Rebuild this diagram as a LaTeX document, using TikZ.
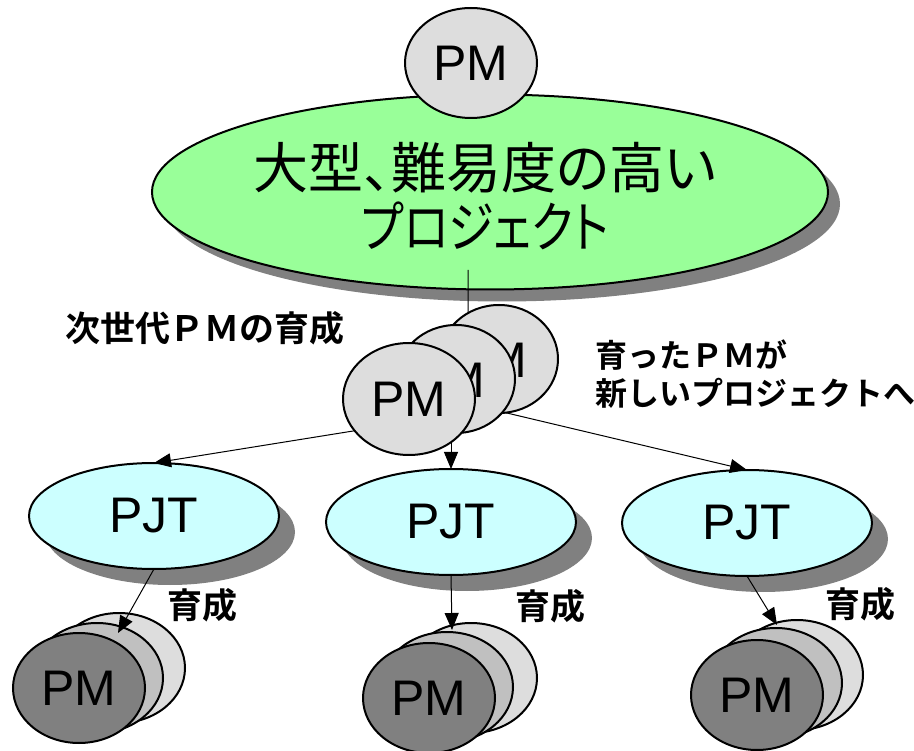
\documentclass[tikz,border=0pt]{standalone}
\usepackage{fontspec}
\setmainfont{Liberation Sans}
\newfontfamily\jp{Noto Sans CJK JP}[RawFeature=+palt]
\newfontfamily\jpn{Noto Sans CJK JP}[RawFeature=+palt, FakeStretch=0.84]
\newfontfamily\jpb{Noto Sans CJK JP Bold}
\usetikzlibrary{shapes.geometric,shadows,arrows.meta}
\definecolor{greenfill}{HTML}{99FF99}
\definecolor{pjtcol}{HTML}{CCFFFF}
\definecolor{pmlight}{HTML}{DDDDDD}
\definecolor{pmmid}{HTML}{C0C0C0}
\definecolor{pmdark}{HTML}{808080}
\definecolor{shadowgray}{HTML}{808080}
\begin{document}
\begin{tikzpicture}[x=1pt,y=-1pt,
 ell/.style={ellipse, draw, line width=2pt, inner sep=0pt, outer sep=0pt},
 pm/.style={ell, minimum width=132pt, minimum height=110pt, font=\fontsize{50}{50}\selectfont},
 pmb/.style={ell, minimum width=118pt, minimum height=108pt, fill=pmlight, font=\fontsize{50}{50}\selectfont},
 pjt/.style={ell, fill=pjtcol, minimum width=250pt, minimum height=106pt,
   font=\fontsize{50}{50}\selectfont,
   drop shadow={shadow xshift=16pt, shadow yshift=-16pt, fill=shadowgray, opacity=1}},
 lbl/.style={inner sep=0pt, font=\jpb\fontsize{35}{40}\selectfont},
 arr/.style={line width=1pt, -{Triangle[length=17pt,width=14pt]}},
]
\useasboundingbox (0,0) rectangle (914,751);

% big green project
\node[ell, fill=greenfill, minimum width=676pt, minimum height=195pt,
  drop shadow={shadow xshift=12pt, shadow yshift=-12pt, fill=shadowgray, opacity=1}]
  (big) at (490,192) {};
\node[font=\jp\fontsize{55}{55}\selectfont] (bigtext1) at (485,168) {大型、難易度の高い};
\node[font=\jpn\fontsize{55}{55}\selectfont] (bigtext2) at (485,226) {プロジェクト};

% top PM
\node[pm, fill=pmlight] (pmtop) at (471,63) {PM};

% PJT nodes
\node[pjt] (pjtL) at (154,516) {PJT};
\node[pjt] (pjtM) at (451,522) {PJT};
\node[pjt] (pjtR) at (747,523) {PJT};

% arrows from the PM stack to PJTs (behind stack)
\coordinate (hub) at (490,409);
\coordinate (hub2) at (451,430);
\draw[arr] (hub) -- (pjtL.north);
\draw[arr] (hub2) -- (pjtM.north);
\draw[arr] (hub) -- (pjtR.north);

% middle PM stack
\node[pmb] (pmB) at (499,359) {};
\node at (490,360) [font=\fontsize{50}{50}\selectfont] (pmBt) {PM};
\node[pmb] (pmM) at (456,379) {};
\node at (448,380) [font=\fontsize{50}{50}\selectfont] (pmMt) {PM};
\node[pm, fill=pmlight, minimum height=112pt] (pmF) at (409,399) {PM};

% line from big project to the PM stack
\coordinate (gl) at (468,270);
\draw[line width=1pt] (gl) -- (pmB.124);

% bottom stacks
\node[pm, fill=pmlight] (lB) at (119,668) {};
\node[pm, fill=pmmid]   (lM) at (97,678) {};
\node[pm, fill=pmdark]  (lF) at (79,688) {PM};

\node[pm, fill=pmlight] (mB) at (471,678) {};
\node[pm, fill=pmmid]   (mM) at (447,687) {};
\node[pm, fill=pmdark]  (mF) at (429,698) {PM};

\node[pm, fill=pmlight] (rB) at (797,675) {};
\node[pm, fill=pmmid]   (rM) at (776,683) {};
\node[pm, fill=pmdark]  (rF) at (757,695) {PM};

% arrows PJT -> new PMs
\coordinate (tL) at (118,633);
\coordinate (tM) at (452,630);
\coordinate (tR) at (777,625);
\draw[arr] (pjtL.south) -- (tL);
\draw[arr] (pjtM.south) -- (tM);
\draw[arr] (pjtR.south) -- (tR);

% labels
\node[lbl] (lab1) at (205,328) {次世代ＰＭの育成};
\node[lbl, align=left, anchor=west, font=\jpb\fontsize{32}{38}\selectfont] (lab2) at (595,374)
  {育ったＰＭが\\新しいプロジェクトへ};
\node[lbl] (g1) at (202,605) {育成};
\node[lbl] (g2) at (550,606) {育成};
\node[lbl] (g3) at (860,604) {育成};
\end{tikzpicture}
\end{document}
